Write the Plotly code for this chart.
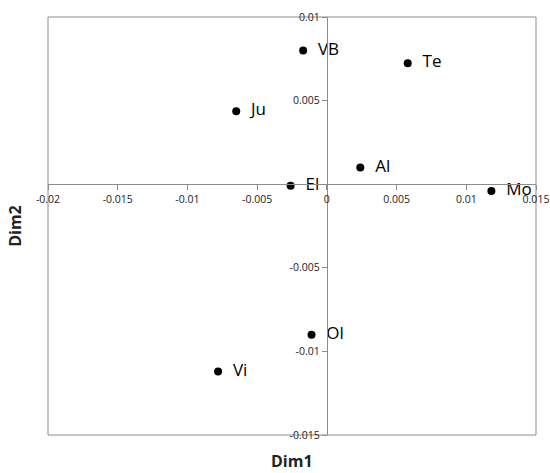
import plotly.graph_objects as go

labels = ["VB", "Te", "Ju", "Al", "El", "Mo", "Ol", "Vi"]
dim1 = [-0.0017, 0.0058, -0.0065, 0.0024, -0.0026, 0.0118, -0.0011, -0.0078]
dim2 = [0.0080, 0.00724, 0.00437, 0.0010, -0.0001, -0.0004, -0.0090, -0.0112]

x_ticks = [-0.02, -0.015, -0.01, -0.005, 0, 0.005, 0.01, 0.015]
x_tick_text = ["-0.02", "-0.015", "-0.01", "-0.005", "0", "0.005", "0.01", "0.015"]
y_ticks = [-0.015, -0.01, -0.005, 0.005, 0.01]
y_tick_text = ["-0.015", "-0.01", "-0.005", "0.005", "0.01"]

x_range = [-0.02, 0.015]
y_range = [-0.015, 0.01]

fig = go.Figure()
fig.add_trace(go.Scatter(
    x=dim1, y=dim2, mode="markers+text",
    text=["  " + t for t in labels],
    textposition="middle right",
    textfont=dict(family="Open Sans, Liberation Sans, sans-serif", size=17, color="black"),
    marker=dict(color="black", size=8),
    cliponaxis=False,
    showlegend=False,
))

xpos = (0 - y_range[0]) / (y_range[1] - y_range[0])
ypos = (0 - x_range[0]) / (x_range[1] - x_range[0])

axis_color = "#8c8c8c"
tick_font = dict(family="Open Sans, Liberation Sans, sans-serif", size=10.5, color="#222")

fig.update_layout(
    width=550, height=473,
    margin=dict(l=48, r=14, t=17, b=38, autoexpand=False),
    plot_bgcolor="white", paper_bgcolor="white",
    xaxis=dict(range=x_range, tickvals=x_ticks, ticktext=x_tick_text, automargin=False,
               showgrid=False, zeroline=False, showline=True, linecolor=axis_color,
               ticks="outside", ticklen=5, tickcolor=axis_color,
               anchor="free", position=xpos, tickfont=tick_font),
    yaxis=dict(range=y_range, tickvals=y_ticks, ticktext=y_tick_text, automargin=False,
               showgrid=False, zeroline=False, showline=True, linecolor=axis_color,
               ticks="outside", ticklen=5, tickcolor=axis_color,
               anchor="free", position=ypos, tickfont=tick_font),
    shapes=[dict(type="rect", xref="paper", yref="paper", x0=0, x1=1, y0=0, y1=1,
                 line=dict(color=axis_color, width=1), layer="below")],
    annotations=[
        dict(text="<b>Dim1</b>", xref="paper", yref="paper", x=0.5, y=-0.032,
             yanchor="top", showarrow=False,
             font=dict(family="Open Sans, Liberation Sans, sans-serif", size=16, color="#222")),
        dict(text="<b>Dim2</b>", xref="paper", yref="paper", x=-0.068, y=0.5,
             xanchor="center", textangle=-90, showarrow=False,
             font=dict(family="Open Sans, Liberation Sans, sans-serif", size=16, color="#222")),
    ],
)

fig.write_html("out.html", config={"displayModeBar": False},
               post_script="document.body.style.margin='0';document.body.style.overflow='hidden';")
